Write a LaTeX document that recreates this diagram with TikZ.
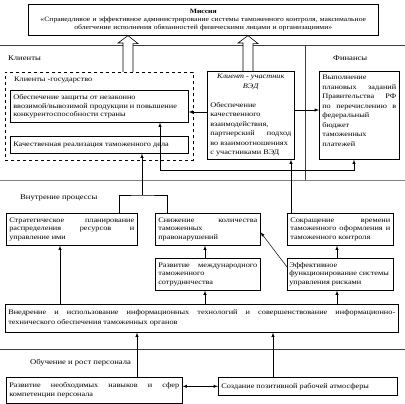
\documentclass[tikz,border=0pt]{standalone}
\usepackage{fontspec}
\setmainfont{Liberation Serif}[FakeStretch=1.18]
\usepackage{tikz}
\usetikzlibrary{arrows,positioning}
\setlength{\parindent}{0pt}
\newcommand{\cpline}[1]{\makebox[\linewidth][c]{#1}}

\begin{document}
\begin{tikzpicture}[x=1pt,y=-1pt,>=latex]
				\tikzstyle{Box}		= [draw, line width=0.6pt, fill=white, anchor=north west, align=justify, inner xsep=3pt, inner ysep=2pt, font=\fontsize{7}{8.5}\selectfont]
				\tikzstyle{Tall}	= [font=\fontsize{7}{9.5}\selectfont]
				\tikzstyle{Head}	= [anchor=west, inner sep=0pt, font=\fontsize{7.3}{9}\selectfont]
				\tikzstyle{Link}	= [line width=0.5pt]
				\tikzstyle{Sep}		= [line width=0.6pt, black!75]
				\tikzstyle{Big}		= [draw, line width=0.6pt, fill=white]

				\fill[white] (0,0) rectangle (405,404);
				\useasboundingbox (0,0) rectangle (405,404);

				\draw[Sep] (0,45) -- (405,45);
				\draw[Sep] (305,45) -- (305,180);
				\draw[gray, double, double distance=0.9pt, line width=0.5pt] (0,181) -- (405,181);
				\draw[Sep] (0,349) -- (405,349);

				\node (mission) at (28,4) [Box, align=center, font=\fontsize{6.5}{8}\selectfont, minimum width=350pt, minimum height=31pt, text width=344pt] {\textbf{Миссия}\\ «Справедливое и эффективное администрирование системы таможенного контроля, максимальное\\ облегчение исполнения обязанностей физическими лицами и организациями»};

				\node (clients) at (8,58) [Head] {Клиенты};
				\node (finance) at (333,58) [Head] {Финансы};
				\node (inner) at (20,198) [Head] {Внутрение процессы};
				\node (growth) at (30,363) [Head] {Обучение и рост персонала};

				\node (state) at (5,72) [draw, dashed, line width=0.6pt, anchor=north west, minimum width=188pt, minimum height=88pt] {};
				\node (statelbl) at (14,80) [Head, font=\fontsize{7}{8.5}\selectfont] {Клиенты -государство};
				\node (protect) at (10,90) [Box, minimum width=178pt, minimum height=32pt, text width=172pt] {Обеспечение защиты от незаконно\\ ввозимой/вывозимой продукции и повышение\\ конкурентоспособности страны};
				\node (quality) at (10,136) [Box, minimum width=178pt, minimum height=17pt, text width=172pt] {Качественная реализация таможенного дела};

				\node (ved) at (207,71) [Box, Tall, minimum width=87pt, minimum height=88pt, text width=81pt] {\cpline{\itshape Клиент - участник}\\ \cpline{\itshape ВЭД}\\ \mbox{}\\ Обеспечение\\ качественного\\ взаимодействия,\linebreak партнерский подход\linebreak во взаимоотношениях\\ с участниками ВЭД};
				\node (fin) at (319,71) [Box, Tall, minimum width=80pt, minimum height=88pt, text width=74pt] {Выполнение\\ плановых заданий\linebreak Правительства РФ\linebreak по перечислению в\linebreak федеральный\\ бюджет\\ таможенных\\ платежей\\ \mbox{}};

				\node (strat) at (6,213) [Box, minimum width=131pt, minimum height=32pt, text width=125pt] {Стратегическое планирование\linebreak распределения ресурсов и\linebreak управление ими};
				\node (snizh) at (155,213) [Box, minimum width=105pt, minimum height=32pt, text width=99pt] {Снижение количества\linebreak таможенных\\ правонарушений};
				\node (sokr) at (287,213) [Box, minimum width=106pt, minimum height=32pt, text width=100pt] {Сокращение времени\linebreak таможенного оформления и\linebreak таможенного контроля};
				\node (razv) at (155,258) [Box, minimum width=105pt, minimum height=32pt, text width=99pt] {Развитие международного\linebreak таможенного\\ сотрудничества};
				\node (effekt) at (287,258) [Box, inner xsep=2pt, minimum width=106pt, minimum height=32pt, text width=102pt] {Эффективное\\ функционирование системы\\ управления рисками};
				\node (vnedr) at (5,304) [Box, font=\fontsize{7}{10}\selectfont, minimum width=393pt, minimum height=28pt, text width=387pt] {Внедрение и использование информационных технологий и совершенствование информационно-\linebreak технического обеспечения таможенных органов};
				\node (razvn) at (6,377) [Box, minimum width=176pt, minimum height=26pt, text width=170pt] {Развитие необходимых навыков и сфер\linebreak компетенции персонала};
				\node (sozd) at (218,377) [Box, minimum width=179pt, minimum height=18pt, text width=173pt] {Создание позитивной рабочей атмосферы};

				\draw[Big] (state.north -| 128,0) ++(-5,0) -- ++(0,-29) -- ++(-5,0) -- (mission.south -| 128,0) -- ++(10,8) -- ++(-5,0) -- (state.north -| 133,0);
				\draw[Big] (ved.north -| 248,0) ++(-5,0) -- ++(0,-28) -- ++(-5,0) -- (mission.south -| 248,0) -- ++(10,8) -- ++(-5,0) -- (ved.north -| 253,0);

				\coordinate (fork) at (142,195);

				\draw[Link,->] (ved.west |- 0,112) -- (protect.east |- 0,112);
				\draw[Link,->] (ved.east |- 0,110) -- (fin.west |- 0,110);
				\draw[Link,<->] (protect.south -| 160,0) |- (354,170) -- (fin.south -| 354,0);
				\draw[Link,->] (sokr.north -| 291,0) -- (ved.south -| 291,0);
				\draw[Link] (strat.north -| 119,0) |- (fork) -| (snizh.north -| 167,0);
				\draw[Link,->] (fork) -- (quality.south -| fork);
				\draw[Link,->] (vnedr.north -| 60,0) -- (strat.south -| 60,0);
				\draw[Link,->] (vnedr.north -| 205,0) -- (razv.south -| 205,0);
				\draw[Link,->] (vnedr.north -| 337,0) -- (effekt.south -| 337,0);
				\draw[Link,->] (razv.north -| 205,0) -- (snizh.south -| 205,0);
				\draw[Link,->] (effekt.north -| 337,0) -- (sokr.south -| 337,0);
				\draw[Link,->] ([yshift=-9pt]effekt.north west) -- ([yshift=-3pt]snizh.east);
				\draw[Link,->] (razvn.north -| 137,0) -- (vnedr.south -| 137,0);
				\draw[Link,->] (sozd.north -| 273,0) -- (vnedr.south -| 273,0);
				\draw[Link,<->] (razvn.east |- sozd.west) -- (sozd.west);

			\end{tikzpicture}
\end{document}
